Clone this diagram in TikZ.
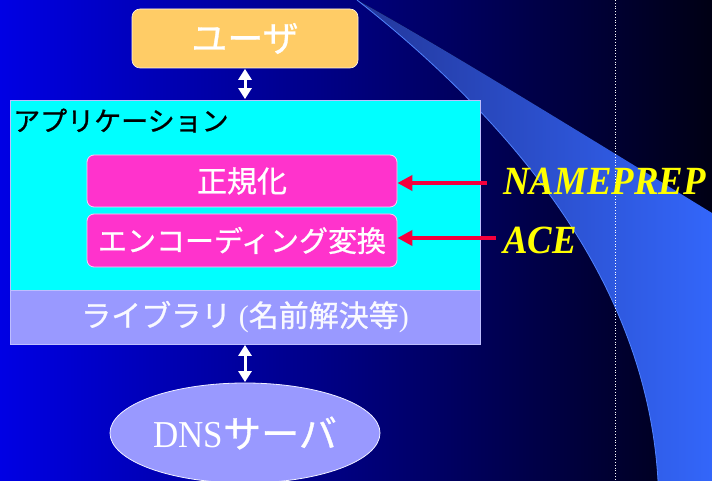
\documentclass[tikz,border=0pt]{standalone}
\usepackage{fontspec}
\setmainfont{Liberation Serif}
\newfontfamily\jp[FakeBold=0.8]{Noto Sans CJK JP}
\newfontfamily\tms[FakeStretch=0.92]{Liberation Serif}
\usetikzlibrary{arrows.meta,shapes.geometric}
\definecolor{bgL}{RGB}{0,0,228}
\definecolor{bgM}{RGB}{0,0,128}
\definecolor{bgR}{RGB}{0,0,20}
\definecolor{swA}{RGB}{35,55,155}
\definecolor{swB}{RGB}{51,102,250}
\definecolor{swEdge}{RGB}{80,130,255}
\definecolor{userC}{RGB}{255,204,102}
\definecolor{appC}{RGB}{0,255,255}
\definecolor{pinkC}{RGB}{255,51,204}
\definecolor{libC}{RGB}{153,153,255}
\definecolor{lineC}{RGB}{190,190,255}
\definecolor{redC}{RGB}{245,0,60}
\definecolor{yelC}{RGB}{255,255,0}
\begin{document}
\begin{tikzpicture}[x=1pt,y=-1pt,
  userbox/.style={rectangle,rounded corners=8pt,fill=userC,draw=white!80!userC,line width=0.6pt,
    minimum width=226pt,minimum height=59pt,text=white,font=\jp\fontsize{36}{40}\selectfont,inner sep=0pt},
  layerbox/.style={rectangle,draw=lineC,line width=0.8pt,minimum width=470pt,inner sep=0pt},
  pinkbox/.style={rectangle,rounded corners=7pt,fill=pinkC,draw=white!75!pinkC,line width=0.8pt,
    minimum width=310pt,minimum height=52pt,text=white,inner sep=0pt},
  dbl/.style={white,line width=3pt,{Triangle[width=13pt,length=11pt]}-{Triangle[width=13pt,length=11pt]},shorten <=0.5pt,shorten >=0.5pt},
  redarr/.style={redC,line width=4pt,-{Triangle[width=15pt,length=15pt]}},
  ylabel/.style={text=yelC,font=\tms\bfseries\itshape\fontsize{40}{44}\selectfont,inner sep=0pt,anchor=base west}
]
\useasboundingbox (0,0) rectangle (712,481);
% background
\fill[left color=bgL,middle color=bgM,right color=bgR] (0,0) rectangle (712,481);
% swoosh
\fill[left color=swA,middle color=swB,right color=swB]
  (357,0) .. controls (535,140) and (648,300) .. (658,481)
  -- (712,481) -- (712,213) .. controls (560,120) and (430,40) .. (357,0) -- cycle;
\draw[swEdge,line width=0.8pt] (357,0) .. controls (535,140) and (648,300) .. (658,481);
% dotted line
\draw[white,dotted,line width=0.8pt] (615.5,0) -- (615.5,481);
% nodes
\node[userbox] (user) at (245,38.5) {ユーザ};
\node[layerbox,fill=appC,minimum height=190pt] (app) at (245,195) {};
\node[anchor=base west,inner sep=0pt,font=\jp\fontsize{27}{30}\selectfont,text=black] (applabel) at (13,131) {アプリケーション};
\node[pinkbox,font=\jp\fontsize{30}{34}\selectfont] (norm) at (242,181) {正規化};
\node[pinkbox,font=\jp\fontsize{29}{33}\selectfont,minimum height=53pt] (enc) at (242,240.5) {エンコーディング変換};
\node[layerbox,fill=libC,minimum height=54pt,text=white!94!libC,font=\fontsize{30}{33}\selectfont] (lib) at (245,317) {{\jp ライブラリ} ({\jp 名前解決等})};
\node[ellipse,fill=libC,draw=white!85!libC,line width=0.8pt,minimum width=270pt,minimum height=100pt,inner sep=0pt,text=white] (dns) at (245,433)
  {{\tms\fontsize{38}{40}\selectfont DNS}{\jp\fontsize{38}{40}\selectfont サーバ}};
% connectors
\draw[dbl] (user.south) -- (app.north);
\draw[dbl] (lib.south) -- (dns.north);
\coordinate (np) at (487,183);
\coordinate (ac) at (496,238);
\draw[redarr] (np) -- (np -| norm.east);
\draw[redarr] (ac) -- (ac -| enc.east);
\node[ylabel] (nameprep) at (503,195) {NAMEPREP};
\node[ylabel] (ace) at (503,253) {ACE};
\end{tikzpicture}
\end{document}
